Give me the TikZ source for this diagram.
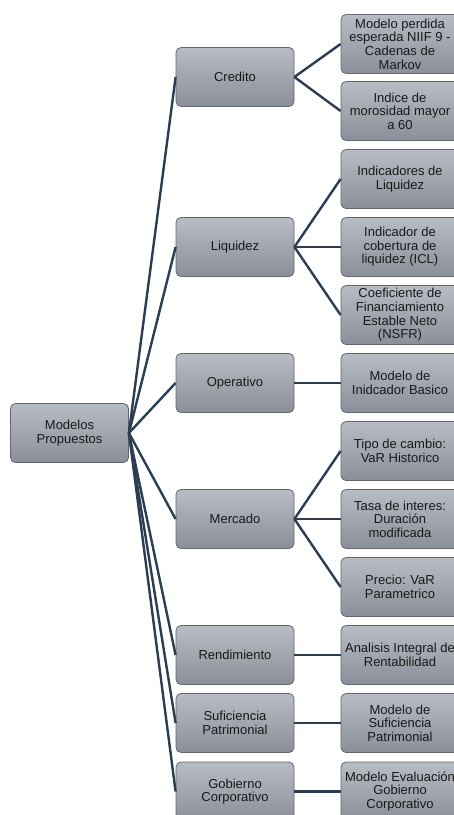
\documentclass[tikz,border=0pt]{standalone}
\usepackage{fontspec}
\setmainfont{Liberation Sans}
\definecolor{boxtop}{RGB}{184,188,196}
\definecolor{boxbot}{RGB}{138,143,153}
\definecolor{boxedge}{RGB}{98,103,112}
\definecolor{linkcol}{RGB}{44,61,82}
\definecolor{txt}{RGB}{25,25,25}
\begin{document}
\begin{tikzpicture}[x=1pt,y=-1pt,
  box/.style={draw=boxedge, line width=0.8pt, rounded corners=5pt,
    top color=boxtop, bottom color=boxbot,
    minimum width=118pt, minimum height=59pt, align=center,
    font=\fontsize{13}{13.6}\selectfont, text=txt, inner sep=1pt},
  link/.style={draw=linkcol, line width=2.4pt}]
\clip (0,0) rectangle (454,815);
\useasboundingbox (0,0) rectangle (454,815);

% root
\node[box] (root) at (69.5,433) {Modelos\\Propuestos};

% first level
\node[box] (cred) at (235,77)    {Credito};
\node[box] (liq)  at (235,247)   {Liquidez};
\node[box] (oper) at (235,383)   {Operativo};
\node[box] (merc) at (235,519)   {Mercado};
\node[box] (rend) at (235,655)   {Rendimiento};
\node[box] (suf)  at (235,723)   {Suficiencia\\Patrimonial};
\node[box] (gob)  at (235,791.5) {Gobierno\\Corporativo};

% second level
\node[box] (c1) at (400,44)  {Modelo perdida\\esperada NIIF 9 -\\Cadenas de\\Markov};
\node[box] (c2) at (400,111) {Indice de\\morosidad mayor\\a 60};
\node[box] (l1) at (400,179) {Indicadores de\\Liquidez};
\node[box] (l2) at (400,247) {Indicador de\\cobertura de\\liquidez (ICL)};
\node[box] (l3) at (400,315) {Coeficiente de\\Financiamiento\\Estable Neto\\(NSFR)};
\node[box] (o1) at (400,383) {Modelo de\\Inidcador Basico};
\node[box] (m1) at (400,451) {Tipo de cambio:\\VaR Historico};
\node[box] (m2) at (400,519) {Tasa de interes:\\Duración\\modificada};
\node[box] (m3) at (400,587) {Precio: VaR\\Parametrico};
\node[box] (r1) at (400,655) {Analisis Integral de\\Rentabilidad};
\node[box] (s1) at (400,723) {Modelo de\\Suficiencia\\Patrimonial};
\node[box] (g1) at (400,791.5) {Modelo Evaluación\\Gobierno\\Corporativo};

% connectors
\foreach \t in {cred,liq,oper,merc,rend,suf,gob}
  \draw[link] (root.east) -- (\t.west);
\foreach \s/\t in {cred/c1,cred/c2,liq/l1,liq/l2,liq/l3,oper/o1,
                   merc/m1,merc/m2,merc/m3,rend/r1,suf/s1,gob/g1}
  \draw[link] (\s.east) -- (\t.west);
\end{tikzpicture}
\end{document}
